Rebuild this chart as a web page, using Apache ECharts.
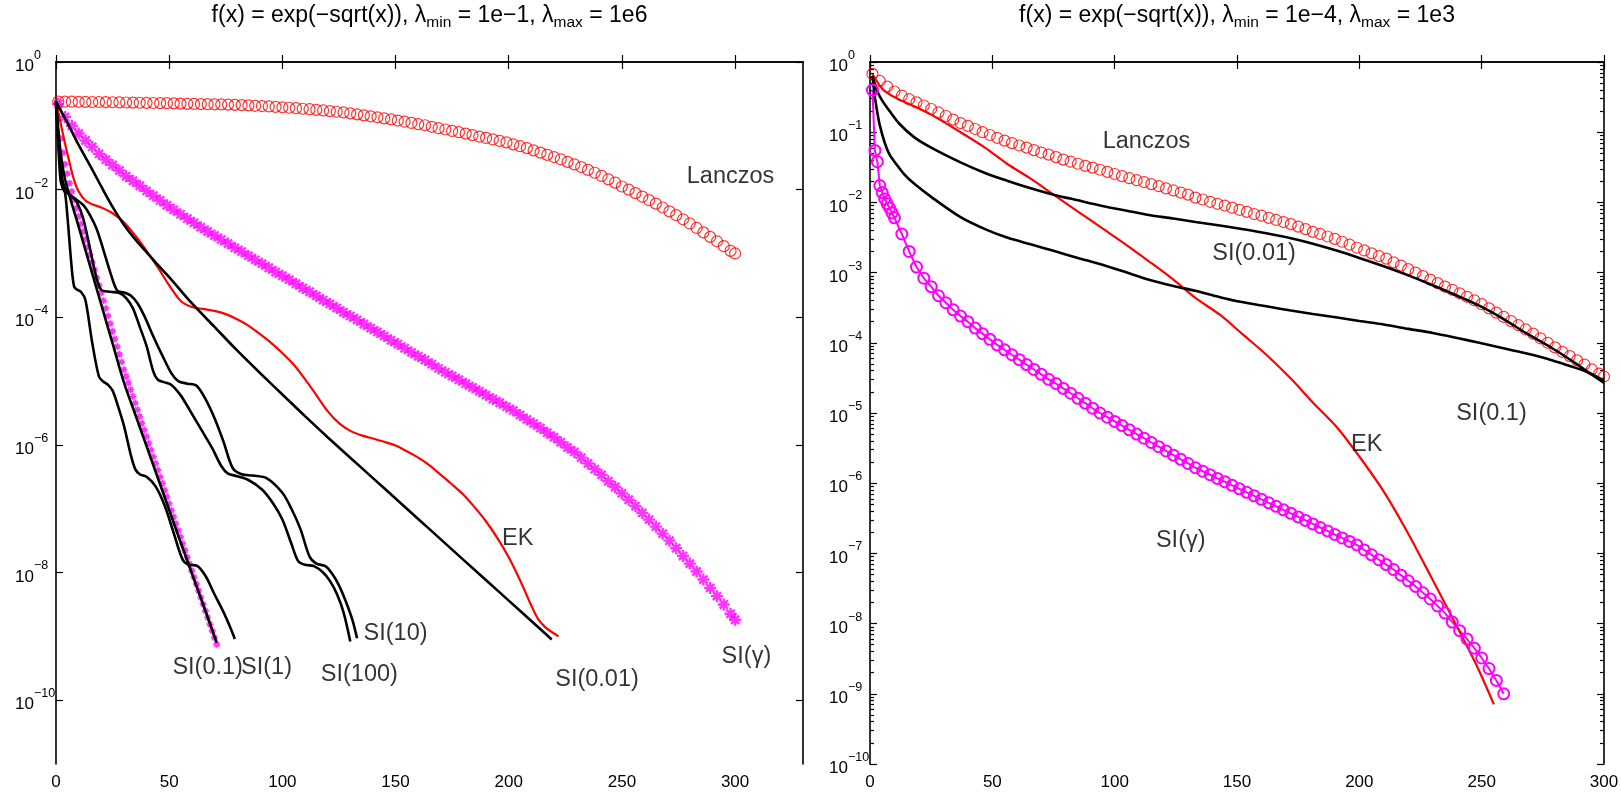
<!DOCTYPE html>
<html>
<head>
<meta charset="utf-8">
<script src="https://cdn.jsdelivr.net/npm/echarts@6/dist/echarts.min.js"></script>
<style>html,body{margin:0;padding:0;background:#fff}#c{width:1621px;height:796px}</style>
</head>
<body>
<div id="c"></div>
<script>
// ---------------- tick labels ----------------
const leftXTicks = [0, 50, 100, 150, 200, 250, 300];
const leftYExp = [-10, -8, -6, -4, -2, 0];
const rightYExp = [-10, -9, -8, -7, -6, -5, -4, -3, -2, -1, 0];

// ---------------- iteration numbers for marker series ----------------
const itersEvery3 = [1,4,7,10,13,16,19,22,25,28,31,34,37,40,43,46,49,52,55,58,61,64,67,70,73,76,79,82,85,88,91,94,97,100,103,106,109,112,115,118,121,124,127,130,133,136,139,142,145,148,151,154,157,160,163,166,169,172,175,178,181,184,187,190,193,196,199,202,205,208,211,214,217,220,223,226,229,232,235,238,241,244,247,250,253,256,259,262,265,268,271,274,277,280,283,286,289,292,295,298,300];

// ---------------- LEFT panel: lambda_min = 1e-1, lambda_max = 1e6 ----------------
const lanczosLeft = [0.240,0.240,0.239,0.238,0.237,0.236,0.236,0.235,0.234,0.233,0.232,0.231,0.230,0.229,0.228,0.227,0.226,0.225,0.223,0.221,0.220,0.219,0.218,0.217,0.216,0.215,0.213,0.211,0.209,0.206,0.204,0.201,0.198,0.195,
0.192,0.189,0.185,0.182,0.178,0.174,0.170,0.166,0.162,0.157,
0.151,0.146,0.141,0.136,0.131,0.126,0.121,0.116,0.111,0.106,
0.102,0.0966,0.0918,0.0875,0.0832,0.0794,0.0755,0.0716,0.0676,0.0646,
0.0612,0.0579,0.055,0.0513,0.0479,0.0447,0.0412,0.038,0.0351,0.0324,
0.0299,0.0272,0.0248,0.0226,0.0204,0.0184,0.0164,0.0145,0.0129,0.0112,
0.0100,0.00881,0.00776,0.00684,0.00603,0.00525,0.00457,0.00398,0.00343,0.00295,
0.00251,0.00214,0.00182,0.00155,0.0013,0.0011,0.0010];

const siGammaLeft = [2.19e-1,1.38e-1,1.00e-1,7.59e-2,5.89e-2,4.68e-2,3.63e-2,2.95e-2,2.43e-2,2.00e-2,1.62e-2,1.38e-2,1.15e-2,9.55e-3,8.04e-3,6.76e-3,5.69e-3,4.83e-3,4.12e-3,3.51e-3,3.02e-3,2.57e-3,2.21e-3,1.91e-3,1.65e-3,1.43e-3,1.23e-3,1.07e-3,9.23e-4,7.94e-4,6.92e-4,5.96e-4,5.13e-4,4.47e-4,
3.89e-4,3.35e-4,2.88e-4,2.51e-4,2.16e-4,1.86e-4,1.62e-4,1.40e-4,1.20e-4,1.05e-4,
9.12e-5,7.85e-5,6.76e-5,5.89e-5,5.07e-5,4.37e-5,3.80e-5,3.27e-5,2.82e-5,2.45e-5,
2.14e-5,1.84e-5,1.58e-5,1.38e-5,1.20e-5,1.05e-5,9.12e-6,7.94e-6,6.92e-6,6.03e-6,
5.25e-6,4.57e-6,3.98e-6,3.47e-6,2.95e-6,2.51e-6,2.16e-6,1.84e-6,1.55e-6,1.32e-6,
1.10e-6,9.12e-7,7.76e-7,6.31e-7,5.13e-7,4.17e-7,3.39e-7,2.69e-7,2.19e-7,1.74e-7,
1.38e-7,1.10e-7,8.61e-8,6.76e-8,5.25e-8,4.07e-8,3.16e-8,2.40e-8,1.82e-8,1.38e-8,
1.04e-8,7.76e-9,5.75e-9,4.27e-9,3.16e-9,2.26e-9,1.82e-9];

const starsLeftX = [2,3,4,5,6,7,8,9,10,11,12,13,14,15,16,17,18,19,20,21,22,23,24,25,26,27,28,29,30,31,32,33,34,35,36,37,38,39,40,41,42,43,44,45,46,47,48,49,50,51,52,53,54,55,56,57,58,59,60,61,62,63,64,65,66,67,68,69,70,71];
const starsLeftY = [6.31e-2,3.80e-2,2.51e-2,1.78e-2,1.26e-2,9.33e-3,6.92e-3,5.13e-3,3.80e-3,2.88e-3,
2.19e-3,1.66e-3,1.26e-3,9.55e-4,7.24e-4,5.50e-4,4.17e-4,3.16e-4,2.40e-4,1.82e-4,
1.38e-4,1.05e-4,7.94e-5,6.03e-5,4.57e-5,3.47e-5,2.63e-5,2.00e-5,1.51e-5,1.19e-5,
9.33e-6,7.33e-6,5.75e-6,4.52e-6,3.55e-6,2.79e-6,2.19e-6,1.72e-6,1.35e-6,1.06e-6,
8.32e-7,6.53e-7,5.13e-7,4.03e-7,3.16e-7,2.48e-7,1.95e-7,1.53e-7,1.20e-7,9.44e-8,
7.41e-8,5.82e-8,4.57e-8,3.59e-8,2.82e-8,2.21e-8,1.74e-8,1.36e-8,1.07e-8,8.41e-9,
6.61e-9,5.19e-9,4.07e-9,3.20e-9,2.51e-9,1.97e-9,1.55e-9,1.22e-9,9.55e-10,7.50e-10];

const ekLeftX = [0,2,4,6,8,10,13,16,20,25,30,35,40,45,50,55,60,65,70,75,80,85,90,95,100,105,110,115,120,125,130,135,140,145,150,155,160,165,170,175,180,185,190,195,200,205,210,213,216,219,222];
const ekLeftY = [0.24,1.12e-1,5.25e-2,2.63e-2,1.41e-2,9.33e-3,6.76e-3,5.89e-3,5.25e-3,4.27e-3,3.09e-3,1.91e-3,1.10e-3,6.03e-4,3.16e-4,1.82e-4,1.45e-4,1.35e-4,1.26e-4,1.12e-4,9.33e-5,7.41e-5,5.50e-5,3.98e-5,2.75e-5,1.82e-5,1.07e-5,6.03e-6,3.39e-6,2.19e-6,1.66e-6,1.41e-6,1.26e-6,1.12e-6,9.77e-7,7.94e-7,6.31e-7,4.79e-7,3.39e-7,2.40e-7,1.66e-7,1.05e-7,6.31e-8,3.47e-8,1.74e-8,7.59e-9,3.02e-9,1.86e-9,1.41e-9,1.17e-9,1.00e-9];

const si001LeftX = [0,5,10,15,20,25,30,35,40,45,50,60,70,80,90,100,110,120,130,140,150,160,170,180,190,200,210,219];
const si001LeftY = [0.24,1.12e-1,5.01e-2,2.40e-2,1.12e-2,5.37e-3,2.82e-3,1.66e-3,1.05e-3,6.61e-4,4.27e-4,1.66e-4,7.08e-5,3.02e-5,1.35e-5,6.17e-6,2.82e-6,1.32e-6,6.31e-7,3.02e-7,1.45e-7,6.92e-8,3.31e-8,1.58e-8,7.59e-9,3.63e-9,1.74e-9,8.91e-10];

const si01LeftX = [0,1,2,3,4,6,8,10,15,20,25,30,35,40,45,50,55,60,65,71];
const si01LeftY = [0.24,8.91e-2,3.98e-2,2.24e-2,1.45e-2,7.94e-3,4.57e-3,2.63e-3,6.46e-4,1.58e-4,3.89e-5,9.55e-6,3.02e-6,9.55e-7,3.02e-7,9.55e-8,3.02e-8,9.77e-9,3.16e-9,7.94e-10];

const si1LeftX = [0,1,2,3,4,5,7,8,9,11,13,16,19,21,23,25,27,30,33,35,37,40,44,48,52,56,59,62,66,70,74,77,79];
const si1LeftY = [0.24,5.01e-2,1.41e-2,1.05e-2,8.91e-3,3.98e-3,5.62e-4,3.02e-4,2.75e-4,2.51e-4,1.86e-4,3.98e-5,1.17e-5,9.77e-6,8.71e-6,7.08e-6,4.47e-6,2.00e-6,7.08e-7,4.17e-7,3.47e-7,3.16e-7,2.24e-7,1.12e-7,4.17e-8,1.58e-8,1.32e-8,1.29e-8,8.91e-9,4.57e-9,2.40e-9,1.38e-9,9.12e-10];

const si10LeftX = [0,1,2,3,5,8,12,15,18,21,24,27,30,33,36,39,43,47,51,54,58,62,66,70,74,78,82,87,93,100,104,108,112,115,119,122,125,128,131,133];
const si10LeftY = [0.24,7.08e-2,2.51e-2,1.32e-2,8.91e-3,7.41e-3,5.75e-3,3.98e-3,2.40e-3,1.12e-3,5.01e-4,2.63e-4,2.45e-4,2.19e-4,1.66e-4,1.05e-4,5.01e-5,2.51e-5,1.32e-5,1.00e-5,9.12e-6,8.51e-6,5.25e-6,2.63e-6,1.12e-6,4.37e-7,3.47e-7,3.31e-7,3.02e-7,1.78e-7,1.00e-7,4.79e-8,1.78e-8,1.38e-8,1.26e-8,9.55e-9,6.31e-9,3.55e-9,1.78e-9,9.33e-10];

const si100LeftX = [0,1,2,3,5,7,9,12,15,18,20,24,28,31,34,37,40,43,45,48,51,55,59,64,69,73,76,80,85,91,96,100,104,107,110,114,118,121,124,127,130];
const si100LeftY = [0.24,6.31e-2,2.24e-2,1.26e-2,8.91e-3,7.76e-3,6.61e-3,3.55e-3,1.20e-3,3.98e-4,2.69e-4,2.51e-4,2.40e-4,2.00e-4,1.38e-4,7.08e-5,3.55e-5,1.41e-5,1.05e-5,9.55e-6,8.71e-6,6.03e-6,3.55e-6,1.78e-6,8.91e-7,4.68e-7,3.55e-7,3.24e-7,2.82e-7,2.00e-7,1.20e-7,6.76e-8,2.82e-8,1.51e-8,1.32e-8,1.26e-8,1.00e-8,7.41e-9,4.68e-9,2.40e-9,8.32e-10];

// ---------------- RIGHT panel: lambda_min = 1e-4, lambda_max = 1e3 ----------------
const lanczosRight = [6.76e-1,5.37e-1,4.47e-1,3.80e-1,3.31e-1,2.95e-1,2.66e-1,2.40e-1,2.14e-1,1.91e-1,1.70e-1,1.51e-1,1.35e-1,1.23e-1,1.11e-1,1.00e-1,9.12e-2,8.32e-2,7.59e-2,7.00e-2,6.46e-2,6.03e-2,5.56e-2,5.13e-2,4.79e-2,4.42e-2,4.07e-2,3.80e-2,3.55e-2,3.31e-2,3.13e-2,2.92e-2,2.72e-2,2.54e-2,
2.37e-2,2.21e-2,2.07e-2,1.95e-2,1.82e-2,1.70e-2,1.58e-2,1.48e-2,1.38e-2,1.29e-2,
1.17e-2,1.10e-2,1.02e-2,9.55e-3,9.02e-3,8.41e-3,7.85e-3,7.33e-3,6.84e-3,6.46e-3,
6.03e-3,5.62e-3,5.25e-3,4.90e-3,4.52e-3,4.17e-3,3.80e-3,3.55e-3,3.27e-3,3.02e-3,
2.75e-3,2.51e-3,2.26e-3,2.07e-3,1.88e-3,1.72e-3,1.58e-3,1.40e-3,1.26e-3,1.12e-3,
1.00e-3,8.91e-4,7.94e-4,7.08e-4,6.31e-4,5.69e-4,5.07e-4,4.52e-4,4.03e-4,3.55e-4,
3.09e-4,2.69e-4,2.34e-4,2.04e-4,1.78e-4,1.55e-4,1.35e-4,1.16e-4,1.00e-4,8.61e-5,
7.41e-5,6.46e-5,5.62e-5,4.90e-5,4.17e-5,3.63e-5,3.31e-5];

const siGammaRightX = [1,2,3,4,5,6,7,8,9,10,13,16,19,22,25,28,31,34,37,40,43,46,49,52,55,58,61,64,67,70,73,76,79,82,85,88,91,94,97,100,103,106,109,112,115,118,121,124,127,130,133,136,139,142,145,148,151,154,157,160,163,166,169,172,175,178,181,184,187,190,193,196,199,202,205,208,211,214,217,220,223,226,229,232,235,238,241,244,247,250,253,256,259];
const siGammaRightY = [3.98e-1,5.50e-2,3.80e-2,1.74e-2,1.38e-2,1.12e-2,9.55e-3,8.32e-3,7.08e-3,6.03e-3,
3.55e-3,2.00e-3,1.20e-3,8.32e-4,6.31e-4,4.68e-4,3.72e-4,2.95e-4,2.40e-4,2.00e-4,
1.62e-4,1.35e-4,1.12e-4,9.33e-5,7.94e-5,6.76e-5,5.75e-5,4.90e-5,4.17e-5,3.55e-5,
3.02e-5,2.63e-5,2.24e-5,1.91e-5,1.62e-5,1.38e-5,1.17e-5,1.00e-5,8.71e-6,7.59e-6,
6.61e-6,5.75e-6,5.01e-6,4.37e-6,3.80e-6,3.31e-6,2.88e-6,2.51e-6,2.19e-6,1.91e-6,
1.66e-6,1.48e-6,1.32e-6,1.17e-6,1.05e-6,9.33e-7,8.32e-7,7.41e-7,6.61e-7,5.89e-7,
5.25e-7,4.68e-7,4.17e-7,3.72e-7,3.31e-7,2.95e-7,2.63e-7,2.34e-7,2.09e-7,1.86e-7,
1.66e-7,1.48e-7,1.32e-7,1.12e-7,9.55e-8,8.13e-8,6.92e-8,5.89e-8,4.90e-8,4.07e-8,
3.39e-8,2.75e-8,2.24e-8,1.78e-8,1.41e-8,1.05e-8,7.94e-9,6.03e-9,4.47e-9,3.24e-9,
2.29e-9,1.55e-9,1.00e-9];

const ekRightX = [1,5,10,18,25,37,47,56,66,75,85,95,105,114,124,133,143,152,162,172,181,191,200,210,220,230,240,248,255];
const ekRightY = [6.76e-1,4.17e-1,3.16e-1,2.34e-1,1.78e-1,1.00e-1,6.03e-2,3.55e-2,2.14e-2,1.29e-2,7.41e-3,4.27e-3,2.45e-3,1.45e-3,7.94e-4,4.37e-4,2.51e-4,1.35e-4,6.76e-5,3.09e-5,1.41e-5,6.17e-6,2.40e-6,7.59e-7,1.91e-7,4.17e-8,8.91e-9,2.51e-9,7.08e-10];

const si001RightX = [1,3,5,8,12,18,25,37,47,56,66,75,85,95,105,114,124,133,143,152,162,172,181,191,200,210,220,230,240,249,258,268,278,287,294,300];
const si001RightY = [6.31e-1,3.80e-1,2.82e-1,2.00e-1,1.32e-1,8.51e-2,6.03e-2,3.72e-2,2.63e-2,2.04e-2,1.58e-2,1.29e-2,1.07e-2,8.91e-3,7.59e-3,6.61e-3,5.89e-3,5.25e-3,4.68e-3,4.17e-3,3.63e-3,3.09e-3,2.57e-3,2.04e-3,1.62e-3,1.23e-3,9.12e-4,6.61e-4,4.68e-4,3.39e-4,2.29e-4,1.38e-4,8.71e-5,5.50e-5,3.72e-5,2.69e-5];

const si01RightX = [1,2,3,4,6,8,10,14,18,25,37,47,56,66,75,85,95,105,114,124,133,143,152,162,172,181,191,200,210,220,230,240,249,258,268,278,287,294,300];
const si01RightY = [6.31e-1,3.16e-1,1.91e-1,1.26e-1,7.08e-2,4.79e-2,3.80e-2,2.51e-2,1.86e-2,1.20e-2,6.17e-3,4.17e-3,3.16e-3,2.51e-3,2.04e-3,1.62e-3,1.29e-3,1.00e-3,7.94e-4,6.46e-4,5.50e-4,4.47e-4,3.80e-4,3.31e-4,2.88e-4,2.57e-4,2.29e-4,2.04e-4,1.82e-4,1.58e-4,1.38e-4,1.17e-4,1.00e-4,8.51e-5,7.08e-5,5.75e-5,4.57e-5,3.72e-5,2.88e-5];

// ---------------- in-plot annotations (data coordinates) ----------------
const leftNotes = [
  { text: 'Lanczos', x: 298, y: 1.6e-2 },
  { text: 'EK', x: 204, y: 3.4e-8 },
  { text: 'SI(\u03b3)', x: 305, y: 4.9e-10 },
  { text: 'SI(0.01)', x: 239, y: 2.1e-10 },
  { text: 'SI(10)', x: 150, y: 1.12e-9 },
  { text: 'SI(100)', x: 134, y: 2.5e-10 },
  { text: 'SI(0.1)', x: 67, y: 3.3e-10 },
  { text: 'SI(1)', x: 93, y: 3.3e-10 }
];
const rightNotes = [
  { text: 'Lanczos', x: 113, y: 7.3e-2 },
  { text: 'SI(0.01)', x: 157, y: 1.9e-3 },
  { text: 'SI(0.1)', x: 254, y: 9.8e-6 },
  { text: 'EK', x: 203, y: 3.5e-6 },
  { text: 'SI(\u03b3)', x: 127, y: 1.55e-7 }
];

// ---------------- build chart ----------------
const FONT = "'Liberation Sans', Arial, Helvetica, sans-serif";
const BLACK = '#000000', RED = '#ff0000', MAG = '#ff00ff';
const STAR = 'path://M5 0L5 10M0 5L10 5M1.6 1.6L8.4 8.4M1.6 8.4L8.4 1.6';

function pairs(xs, ys) { return xs.map((x, i) => [x, ys[i]]); }
function expFmt(v) {
  const n = Math.round(v);
  return '{b|10}{e|' + (n < 0 ? '\u2212' + (-n) : String(n)) + '}';
}
const expRich = {
  b: { fontSize: 17, fontFamily: FONT, color: '#000', lineHeight: 26, verticalAlign: 'bottom' },
  e: { fontSize: 12.5, fontFamily: FONT, color: '#000', lineHeight: 12, verticalAlign: 'top' }
};
const rightMinor = [];
for (let n = -10; n < 0; n++) for (let k = 2; k <= 9; k++) rightMinor.push(n + Math.log10(k));

const AX_LINE = { show: true, lineStyle: { color: '#000', width: 1.6 } };
const NO = { show: false };

function xAxisPair(grid, max, ticks) {
  const base = { gridIndex: grid, type: 'value', min: 0, max: max, splitLine: NO };
  const tick = { show: true, inside: true, length: 7, lineStyle: { color: '#000', width: 1.2 } };
  if (ticks) tick.customValues = ticks; else base.interval = 50;
  const lab = { show: true, fontSize: 17, fontFamily: FONT, color: '#000', margin: 10 };
  if (ticks) lab.customValues = ticks;
  return [
    Object.assign({}, base, { position: 'bottom', axisLine: AX_LINE, axisTick: tick, axisLabel: lab }),
    Object.assign({}, base, { position: 'top', axisLine: AX_LINE, axisTick: tick, axisLabel: NO })
  ];
}
function yOverlay(grid, pos, min, values, len, withLabels, line) {
  return {
    gridIndex: grid, type: 'value', position: pos, min: min, max: 0, splitLine: NO,
    axisLine: line ? AX_LINE : NO,
    axisTick: { show: true, inside: true, length: len, customValues: values, lineStyle: { color: '#000', width: 1.2 } },
    axisLabel: withLabels ? { show: true, customValues: values, formatter: expFmt, rich: expRich, align: 'left', margin: 41 } : NO
  };
}
function logAxis(grid, min) {
  return { gridIndex: grid, type: 'log', logBase: 10, min: min, max: 1, axisLine: NO, axisTick: NO, axisLabel: NO, splitLine: NO };
}
function lineSeries(xi, yi, xs, ys, color, width) {
  return { type: 'line', xAxisIndex: xi, yAxisIndex: yi, data: pairs(xs, ys), showSymbol: false, smooth: 0.3,
    lineStyle: { color: color, width: width }, itemStyle: { color: color }, silent: true };
}
function markerSeries(xi, yi, xs, ys, symbol, size, color, bw) {
  return { type: 'scatter', xAxisIndex: xi, yAxisIndex: yi, data: pairs(xs, ys), symbol: symbol, symbolSize: size,
    itemStyle: { color: 'rgba(0,0,0,0)', borderColor: color, borderWidth: bw }, silent: true };
}
function noteSeries(xi, yi, notes) {
  return { type: 'scatter', xAxisIndex: xi, yAxisIndex: yi, symbolSize: 1, itemStyle: { color: 'rgba(0,0,0,0)' }, silent: true, z: 10,
    data: notes.map(d => ({ value: [d.x, d.y], name: d.text })),
    label: { show: true, position: 'inside', formatter: '{b}', fontSize: 23.5, fontFamily: FONT, color: '#000', textBorderWidth: 0 } };
}
function titleText(cx, lmin, lmax) {
  return {
    type: 'text', x: cx, y: 16, silent: true,
    style: {
      text: '{t|f(x) = exp(\u2212sqrt(x)), \u03bb}{s|min}{t| = ' + lmin + ', \u03bb}{s|max}{t| = ' + lmax + '}',
      align: 'center', verticalAlign: 'middle', fill: '#000', fontFamily: FONT, fontSize: 23,
      rich: {
        t: { fontSize: 23, fontFamily: FONT, fill: '#000', lineHeight: 29, verticalAlign: 'middle' },
        s: { fontSize: 15.5, fontFamily: FONT, fill: '#000', lineHeight: 11, verticalAlign: 'bottom' }
      }
    }
  };
}

const [xl0, xl1] = xAxisPair(0, 330, leftXTicks);
const [xr0, xr1] = xAxisPair(1, 300, null);

const option = {
  backgroundColor: '#ffffff',
  animation: false,
  grid: [
    { left: 56, top: 62, width: 747, height: 702, outerBoundsMode: 'none' },
    { left: 870, top: 62, width: 734, height: 702, outerBoundsMode: 'none' }
  ],
  xAxis: [xl0, xl1, xr0, xr1],
  yAxis: [
    logAxis(0, 1e-11),
    yOverlay(0, 'left', -11, leftYExp, 7, true, true),
    yOverlay(0, 'right', -11, leftYExp, 7, false, true),
    logAxis(1, 1e-10),
    yOverlay(1, 'left', -10, rightYExp, 7, true, true),
    yOverlay(1, 'left', -10, rightMinor, 4, false, false),
    yOverlay(1, 'right', -10, rightYExp, 7, false, true),
    yOverlay(1, 'right', -10, rightMinor, 4, false, false)
  ],
  graphic: [ titleText(429.5, '1e\u22121', '1e6'), titleText(1237, '1e\u22124', '1e3') ],
  series: [
    markerSeries(0, 0, itersEvery3, lanczosLeft, 'circle', 11, RED, 1.2),
    markerSeries(0, 0, itersEvery3, siGammaLeft, STAR, 12, MAG, 2.4),
    markerSeries(0, 0, starsLeftX, starsLeftY, STAR, 7, MAG, 1.6),
    lineSeries(0, 0, ekLeftX, ekLeftY, RED, 2.2),
    lineSeries(0, 0, si001LeftX, si001LeftY, BLACK, 2.6),
    lineSeries(0, 0, si01LeftX, si01LeftY, BLACK, 2.6),
    lineSeries(0, 0, si1LeftX, si1LeftY, BLACK, 2.6),
    lineSeries(0, 0, si10LeftX, si10LeftY, BLACK, 2.6),
    lineSeries(0, 0, si100LeftX, si100LeftY, BLACK, 2.6),
    noteSeries(0, 0, leftNotes),

    markerSeries(2, 3, itersEvery3, lanczosRight, 'circle', 11, RED, 1.2),
    { type: 'line', xAxisIndex: 2, yAxisIndex: 3, data: pairs(siGammaRightX, siGammaRightY), showSymbol: true, symbol: 'circle', symbolSize: 11,
      lineStyle: { color: MAG, width: 2 }, itemStyle: { color: 'rgba(0,0,0,0)', borderColor: MAG, borderWidth: 2 }, silent: true },
    lineSeries(2, 3, ekRightX, ekRightY, RED, 2.2),
    lineSeries(2, 3, si001RightX, si001RightY, BLACK, 2.6),
    lineSeries(2, 3, si01RightX, si01RightY, BLACK, 2.6),
    noteSeries(2, 3, rightNotes)
  ]
};

const chart = echarts.init(document.getElementById('c'), null, { renderer: 'canvas' });
chart.setOption(option);
</script>
</body>
</html>
